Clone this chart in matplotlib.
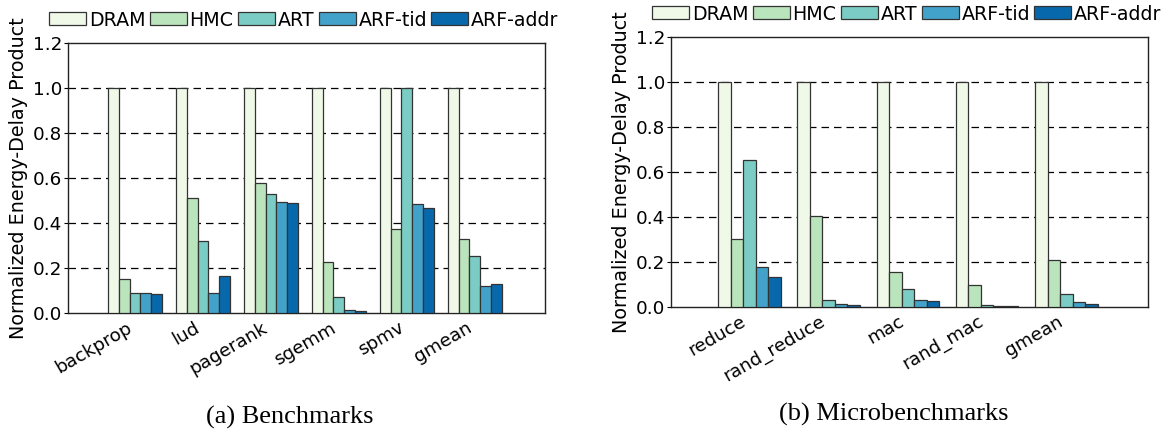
import matplotlib
matplotlib.use('Agg')
from matplotlib import pyplot as plt
from matplotlib.patches import Rectangle
import numpy as np

series = ['DRAM', 'HMC', 'ART', 'ARF-tid', 'ARF-addr']
colors = ['#f0f9e8', '#bae4bc', '#7bccc4', '#43a2ca', '#0868ac']

bench_names = ['backprop', 'lud', 'pagerank', 'sgemm', 'spmv', 'gmean']
bench_dram = [1.0, 1.0, 1.0, 1.0, 1.0, 1.0]
bench_hmc = [0.151, 0.512, 0.579, 0.228, 0.377, 0.329]
bench_art = [0.089, 0.320, 0.530, 0.073, 1.0, 0.257]
bench_tid = [0.089, 0.089, 0.497, 0.013, 0.485, 0.123]
bench_addr = [0.086, 0.165, 0.491, 0.009, 0.467, 0.129]

micro_names = ['reduce', 'rand_reduce', 'mac', 'rand_mac', 'gmean']
micro_dram = [1.0, 1.0, 1.0, 1.0, 1.0]
micro_hmc = [0.301, 0.405, 0.156, 0.096, 0.208]
micro_art = [0.653, 0.028, 0.080, 0.007, 0.055]
micro_tid = [0.175, 0.010, 0.031, 0.003, 0.021]
micro_addr = [0.132, 0.006, 0.025, 0.002, 0.013]

width = 0.158
W, H = 1171.0, 436.0


def draw_panel(ax, names, data, caption, cap_xy, leg_xy):
    x = np.arange(len(names))
    for k, vals in enumerate(data):
        ax.bar(x + k * width, vals, width, align='edge', color=colors[k],
               edgecolor='#333333', linewidth=0.9, zorder=3)
    ax.set_xlim(-0.6, len(names) + 0.43)
    ax.set_ylim(0, 1.2)
    ax.set_yticks(np.arange(0, 1.21, 0.2))
    ax.set_yticklabels(['%.1f' % v for v in np.arange(0, 1.21, 0.2)])
    ax.set_xticks(x + 2.5 * width)
    ax.set_xticklabels(names, rotation=30, ha='right')
    ax.tick_params(labelsize=13.2)
    ax.tick_params(axis='y', length=3, width=0.8, pad=1)
    ax.tick_params(axis='x', length=0, pad=4)
    for yv in [0.2, 0.4, 0.6, 0.8, 1.0]:
        ax.axhline(yv, color='black', linestyle=(0, (6, 4)), linewidth=0.9, zorder=1)
    for s in ax.spines.values():
        s.set_color('#222222')
        s.set_linewidth(1.0)
    ax.set_ylabel('Normalized Energy-Delay Product', fontsize=13.8, labelpad=3)
    handles = [Rectangle((0, 0), 1, 1, facecolor=c, edgecolor='#333333', linewidth=0.9)
               for c in colors]
    fig.legend(handles, series, loc='center left', bbox_to_anchor=leg_xy, ncol=5,
               frameon=False, fontsize=13.7, handlelength=1.95, handleheight=0.7,
               handletextpad=0.15, columnspacing=0.22, borderpad=0, borderaxespad=0)
    fig.text(cap_xy[0], cap_xy[1], caption, ha='center', va='center',
             fontsize=19, family='Liberation Serif')


fig = plt.figure(figsize=(11.71, 4.36), dpi=100)
ax1 = fig.add_axes([67.5 / W, 1 - 313.3 / H, (545 - 67.5) / W, (313.3 - 43.5) / H])
ax2 = fig.add_axes([670.5 / W, 1 - 306.7 / H, (1148.3 - 670.5) / W, (306.7 - 36.7) / H])

draw_panel(ax1, bench_names, [bench_dram, bench_hmc, bench_art, bench_tid, bench_addr],
           '(a) Benchmarks', (290 / W, 1 - 417 / H), (49 / W, 1 - 20 / H))
draw_panel(ax2, micro_names, [micro_dram, micro_hmc, micro_art, micro_tid, micro_addr],
           '(b) Microbenchmarks', (894 / W, 1 - 414 / H), (652 / W, 1 - 14 / H))

plt.savefig('out.png', dpi=100)
